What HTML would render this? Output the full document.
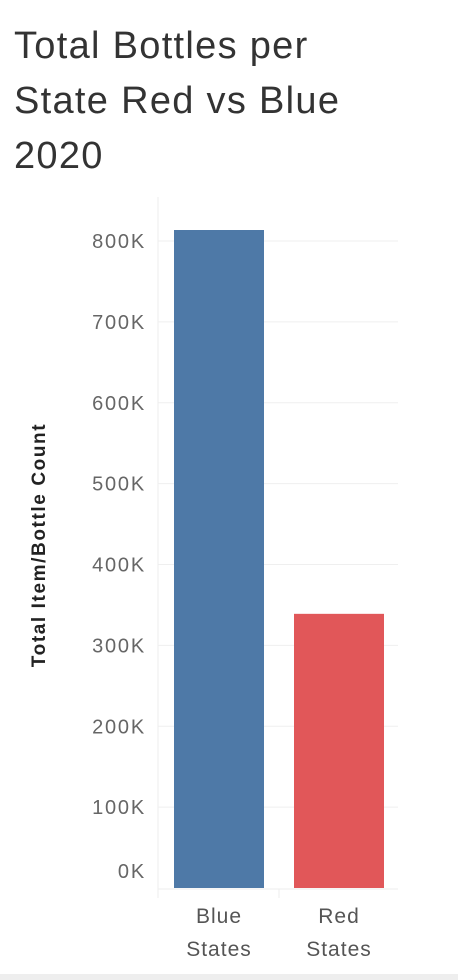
<!DOCTYPE html>
<html><head><meta charset="utf-8"><style>
body{margin:0;background:#fff;width:458px;height:980px;overflow:hidden;font-family:"Liberation Sans",sans-serif}
#title{position:absolute;left:14px;top:19px;font-size:38px;letter-spacing:1.3px;line-height:55px;color:#333;font-weight:normal;margin:0}
</style></head><body>
<h1 id="title">Total Bottles per<br>State Red vs Blue<br>2020</h1>
<svg id="chart" width="458" height="980" style="position:absolute;left:0;top:0">
<rect x="0" y="974" width="458" height="6" fill="#eeeeee"/>
</svg>
<script>
const categories=["Blue States","Red States"];
const values=[813600,339000];
const colors=["#4e79a7","#e15759"];
const ticks=[0,100000,200000,300000,400000,500000,600000,700000,800000];
const tickLabels=["0K","100K","200K","300K","400K","500K","600K","700K","800K"];
const svg=document.getElementById('chart');
const NS="http://www.w3.org/2000/svg";
const y0=888,pxPer=647/800000;
const y=v=>y0-v*pxPer;
function mk(t,a){const e=document.createElementNS(NS,t);for(const k in a)e.setAttribute(k,a[k]);svg.appendChild(e);return e;}
ticks.forEach((t,i)=>{
 if(t>0){const g=mk('line',{x1:158,x2:398,y1:y(t),y2:y(t),stroke:'#efefef','stroke-width':1});
 
 }
 const ly=t===0?Math.min(y(t),871):y(t);
 const l=mk('text',{x:146,y:ly+7,'text-anchor':'end','font-size':20,'letter-spacing':1.8,fill:'#666'});
 l.textContent=tickLabels[i];
 
 
});
const ax=mk('line',{x1:158,x2:158,y1:197,y2:898,stroke:'#eee'});


const bx=mk('line',{x1:158,x2:398,y1:889,y2:889,stroke:'#eee'});


const sep=mk('line',{x1:279,x2:279,y1:889,y2:898,stroke:'#eee'});


categories.forEach((c,i)=>{
 const x=174+i*120;
 const r=mk('rect',{x:x,y:y(values[i]),width:90,height:y0-y(values[i]),fill:colors[i]});
 
 
 const w=c.split(' ');
 w.forEach((s,j)=>{
  const t=mk('text',{x:x+45,y:923+j*33,'text-anchor':'middle','font-size':21,'letter-spacing':1,fill:'#555'});
  t.textContent=s;
  
  
 });
});
const yt=mk('text',{x:0,y:0,'text-anchor':'middle','font-size':19,'letter-spacing':1.6,'font-weight':'bold',fill:'#222',transform:'translate(45,545) rotate(-90)'});
yt.textContent='Total Item/Bottle Count';


</script>
</body></html>
